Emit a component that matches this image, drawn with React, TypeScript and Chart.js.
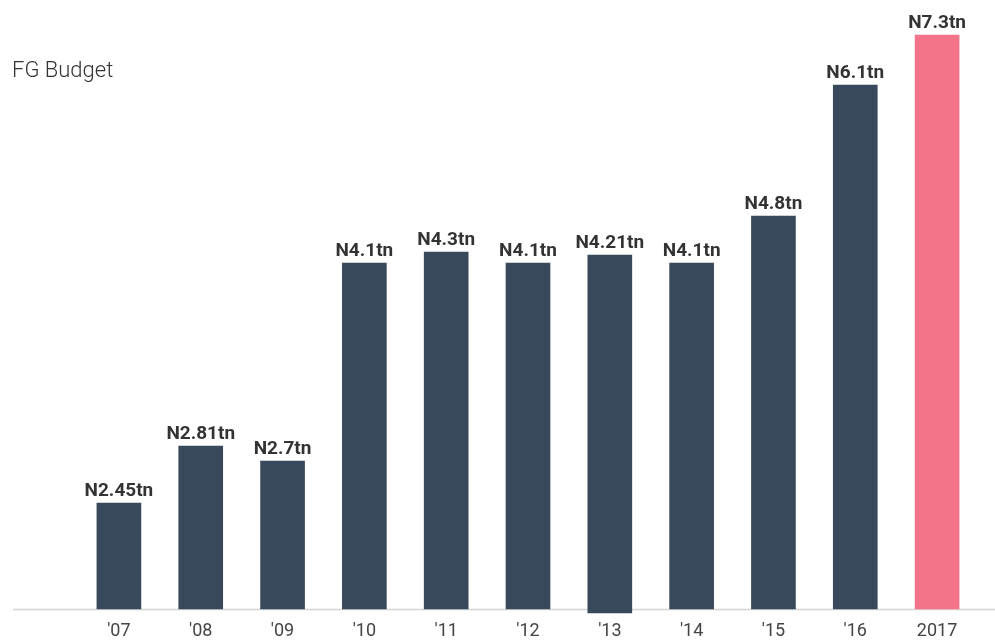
import React, { useEffect, useRef } from "react";
import { Chart, registerables } from "chart.js";

Chart.register(...registerables);

const categories = ["'07", "'08", "'09", "'10", "'11", "'12", "'13", "'14", "'15", "'16", "2017"];
// bar heights as drawn in the picture (illustrative units, not proportional to budget)
const barTops = [106, 163, 148, 346, 357, 346, 354, 346, 393, 524, 574];
const barBottoms = [0, 0, 0, 0, 0, 0, -4, 0, 0, 0, 0];
const valueLabels = ["N2.45tn", "N2.81tn", "N2.7tn", "N4.1tn", "N4.3tn", "N4.1tn", "N4.21tn", "N4.1tn", "N4.8tn", "N6.1tn", "N7.3tn"];
const barColors = ["#37495a", "#37495a", "#37495a", "#37495a", "#37495a", "#37495a", "#37495a", "#37495a", "#37495a", "#37495a", "#f37389"];
const titleText = "FG Budget";

const FONT = "Roboto, 'DejaVu Sans', sans-serif";

const overlayPlugin = {
  id: "overlay",
  beforeDatasetsDraw(chart: any) {
    const ctx = chart.ctx;
    const y = chart.scales.y.getPixelForValue(0);
    ctx.save();
    ctx.strokeStyle = "#d4d4d4";
    ctx.lineWidth = 1.5;
    ctx.beginPath();
    ctx.moveTo(13, y + 0.5);
    ctx.lineTo(chart.width, y + 0.5);
    ctx.stroke();
    ctx.restore();
  },
  afterDatasetsDraw(chart: any) {
    const ctx = chart.ctx;
    const meta = chart.getDatasetMeta(0);
    ctx.save();
    ctx.fillStyle = "#333333";
    ctx.font = `bold 19px ${FONT}`;
    ctx.textAlign = "center";
    ctx.textBaseline = "alphabetic";
    meta.data.forEach((el: any, i: number) => {
      ctx.fillText(valueLabels[i], el.x, el.y - 7);
    });
    ctx.font = `300 22px ${FONT}`;
    ctx.textAlign = "left";
    ctx.fillText(titleText, 12, 77);
    ctx.restore();
  },
};

export default function App() {
  const ref = useRef<HTMLCanvasElement>(null);
  useEffect(() => {
    document.body.style.margin = "0";
    const chart = new Chart(ref.current!, {
      type: "bar",
      data: {
        labels: categories,
        datasets: [
          {
            data: barTops.map((t, i) => [barBottoms[i], t]) as any,
            backgroundColor: barColors,
            borderWidth: 0,
            barThickness: 44,
            clip: false as any,
          },
        ],
      },
      options: {
        animation: false,
        responsive: false,
        maintainAspectRatio: false,
        devicePixelRatio: 1,
        layout: { padding: { left: 78, right: 17, top: 9, bottom: 0 } },
        plugins: { legend: { display: false }, tooltip: { enabled: false }, title: { display: false } },
        scales: {
          x: {
            grid: { display: false, drawTicks: false },
            border: { display: false },
            ticks: { color: "#444444", font: { family: FONT, size: 18 }, padding: 12, maxRotation: 0, autoSkip: false },
            afterFit: (s: any) => {
              s.height = 34;
            },
          },
          y: { display: false, min: 0, max: 600 },
        },
      },
      plugins: [overlayPlugin],
    });
    return () => chart.destroy();
  }, []);
  return (
    <div style={{ position: "absolute", left: 0, top: 0, width: 995, height: 643 }}>
      <canvas ref={ref} width={995} height={643} style={{ width: 995, height: 643 }} />
    </div>
  );
}
